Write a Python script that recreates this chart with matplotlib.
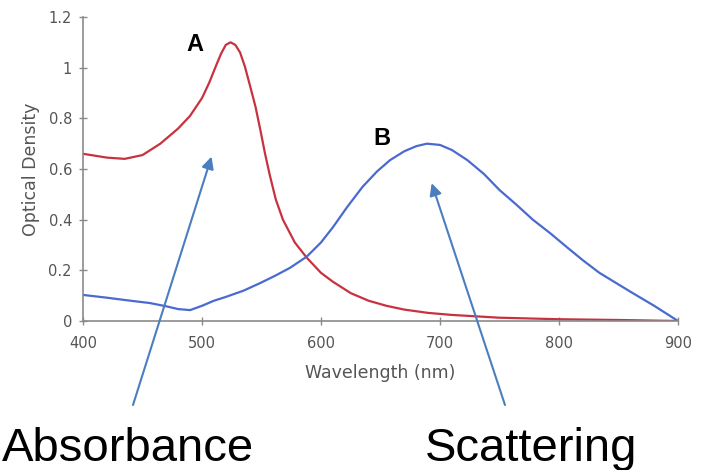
import numpy as np
import matplotlib
matplotlib.use("Agg")
import matplotlib.pyplot as plt

# curve A (absorbance)
wl_red = [400, 420, 435, 450, 465, 480, 490, 500, 506, 512, 516, 520, 524, 528, 532,
          536, 540, 545, 549, 553, 557, 562, 568, 578, 588, 600, 610, 625, 640, 655,
          670, 690, 710, 750, 800, 850, 900]
od_red = [0.66, 0.645, 0.64, 0.655, 0.70, 0.76, 0.81, 0.88, 0.94, 1.01, 1.055, 1.09,
          1.10, 1.09, 1.06, 1.005, 0.935, 0.845, 0.755, 0.66, 0.575, 0.48, 0.40, 0.31,
          0.25, 0.19, 0.155, 0.11, 0.08, 0.06, 0.045, 0.032, 0.024, 0.013, 0.007,
          0.004, 0.0]

# curve B (scattering)
wl_blue = [400, 420, 440, 456, 470, 480, 490, 500, 510, 520, 535, 549, 562, 574, 588,
           600, 610, 622, 635, 647, 658, 670, 680, 689, 700, 710, 723, 737, 750, 764,
           778, 793, 807, 820, 834, 848, 862, 880, 900]
od_blue = [0.103, 0.092, 0.08, 0.071, 0.058, 0.047, 0.043, 0.06, 0.08, 0.095, 0.12,
           0.15, 0.18, 0.21, 0.254, 0.31, 0.37, 0.45, 0.53, 0.59, 0.635, 0.67, 0.69,
           0.70, 0.695, 0.675, 0.635, 0.58, 0.517, 0.46, 0.40, 0.345, 0.29, 0.24,
           0.19, 0.15, 0.11, 0.06, 0.0]

xticks = [400, 500, 600, 700, 800, 900]
yticks = [0, 0.2, 0.4, 0.6, 0.8, 1.0, 1.2]
ytick_labels = ["0", "0.2", "0.4", "0.6", "0.8", "1", "1.2"]

W, H = 702, 470
fig = plt.figure(figsize=(W / 100, H / 100), dpi=100)
ax = fig.add_axes([83 / W, 1 - 321 / H, (678 - 83) / W, (321 - 17) / H])

ax.plot(wl_red, od_red, color="#c8323f", lw=1.6, solid_capstyle="round")
ax.plot(wl_blue, od_blue, color="#4a6ad0", lw=1.6, solid_capstyle="round")

ax.set_xlim(400, 900)
ax.set_ylim(0, 1.2)
ax.set_xticks(xticks)
ax.set_yticks(yticks)
ax.set_yticklabels(ytick_labels)
for s in ["top", "right"]:
    ax.spines[s].set_visible(False)
for s in ["left", "bottom"]:
    ax.spines[s].set_color("#8a8a8a")
    ax.spines[s].set_linewidth(1.2)
ax.tick_params(direction="inout", length=6, width=1, color="#8a8a8a",
               labelcolor="#555555", labelsize=10.5)
ax.tick_params(axis="x", pad=8)
ax.tick_params(axis="y", pad=5)
ax.set_xlabel("Wavelength (nm)", fontsize=12.5, color="#555555", labelpad=9)
ax.set_ylabel("Optical Density", fontsize=12.5, color="#555555", labelpad=6)

ax.text(494, 1.09, "A", fontsize=17, fontweight="bold", family="Liberation Sans",
        ha="center", va="center")
ax.text(651, 0.72, "B", fontsize=17, fontweight="bold", family="Liberation Sans",
        ha="center", va="center")

arrow = dict(arrowstyle="-|>", color="#4a7ebf", lw=1.5, mutation_scale=18,
             shrinkA=0, shrinkB=0)
ax.annotate("", xy=(508, 0.649), xytext=(133 / W, 1 - 405 / H),
            textcoords="figure fraction", arrowprops=arrow, annotation_clip=False)
ax.annotate("", xy=(693, 0.544), xytext=(505 / W, 1 - 405 / H),
            textcoords="figure fraction", arrowprops=arrow, annotation_clip=False)

fig.text(2 / W, 1 - 461 / H, "Absorbance", fontsize=34, family="Liberation Sans",
         ha="left", va="baseline")
fig.text(425 / W, 1 - 461 / H, "Scattering", fontsize=34, family="Liberation Sans",
         ha="left", va="baseline")

fig.savefig("out.png", dpi=100, facecolor="white")
